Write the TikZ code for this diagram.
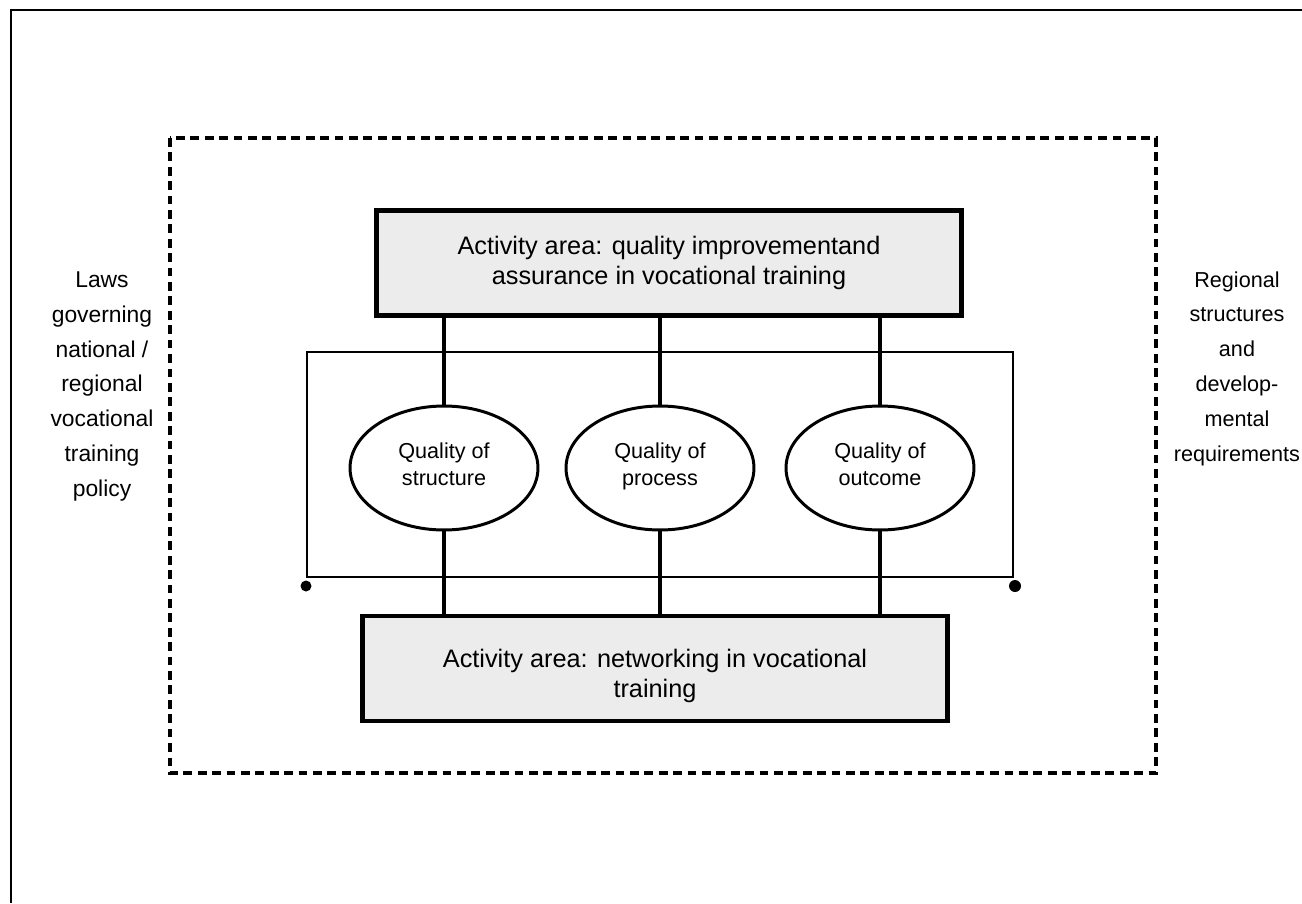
\documentclass[tikz,border=0pt]{standalone}
\usepackage{fontspec}
\setmainfont{Liberation Sans}
\usepackage{tikz}
\usetikzlibrary{shapes.geometric}
\usepackage{xcolor}

\tikzset{
  activitybox/.style={draw=black, line width=2.4pt, fill=gray!15, minimum width=11.7cm, minimum height=2.1cm, align=center, font=\fontsize{14.4}{17.2}\selectfont},
  qualityellipse/.style={ellipse, draw=black, line width=1.7pt, fill=white, minimum width=3.76cm, minimum height=2.48cm, align=center, inner sep=0pt, font=\fontsize{12.3}{15.4}\selectfont, execute at begin node=\strut, execute at end node=\strut},
  sidetext/.style={align=center, font=\fontsize{13}{19.8}\selectfont},
  link/.style={line width=2.4pt}
}

\begin{document}
\begin{tikzpicture}[x=0.02cm, y=-0.02cm]
\useasboundingbox (0,0) rectangle (1302,903);

% Draw the outer frame (only top and left edges show)
\draw[line width=1.4pt] (1302,10) -- (11,10) -- (11,903);

% Draw the dashed area boundary
\draw[line width=2.2pt, dash pattern=on 5pt off 3.2pt] (170,138) rectangle (1156,773);

% Thin frame round the three qualities
\draw[line width=1pt] (307,352) rectangle (1013,577);
\fill (306,586) circle (5.5);
\fill (1015,586) circle (6);

% Activity areas
\node[activitybox] (improve) at (669,263) {Activity area: quality improvementand\\assurance in vocational training};
\node[activitybox] (network) at (655,668.5) {\rule{0pt}{0.65cm}Activity area: networking in vocational\\training};

% Quality ellipses
\node[qualityellipse] (structure) at (444,468) {Quality of\\structure};
\node[qualityellipse] (process) at (660,468) {Quality of\\process};
\node[qualityellipse] (outcome) at (880,468) {Quality of\\outcome};

% Connect ellipses to both activity areas
\foreach \q in {structure,process,outcome} {
  \draw[link] (\q.north |- improve.south) -- (\q.north);
  \draw[link] (\q.south) -- (\q.south |- network.north);
}

% Side texts
\node[sidetext] (laws) at (102,386.5) {Laws\\governing\\national /\\regional\\vocational\\training\\policy};
\node[sidetext, font=\fontsize{12.3}{19.8}\selectfont] (regional) at (1237,368.5) {Regional\\structures\\and\\develop-\\mental\\requirements};
\end{tikzpicture}
\end{document}
